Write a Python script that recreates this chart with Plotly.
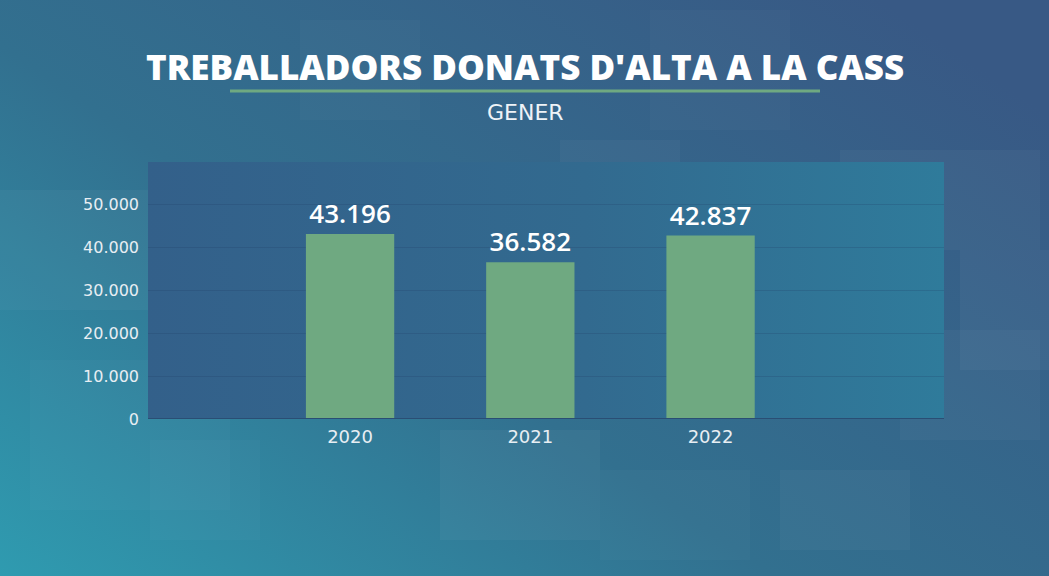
import base64
import plotly.graph_objects as go

years = [2020, 2021, 2022]
workers = [43196, 36582, 42837]
y_ticks = [0, 10000, 20000, 30000, 40000, 50000]

title = "TREBALLADORS DONATS D'ALTA A LA CASS"
subtitle = "GENER"

W, H = 1049, 576
L, R, T, B = 148, 105, 162, 157
PW, PH = W - L - R, H - T - B


def svg_uri(svg):
    return "data:image/svg+xml;base64," + base64.b64encode(svg.encode()).decode()


def px_x(x):
    return (x - L) / PW


def px_y(y):
    return (H - B - y) / PH


# page background: teal on the left, dark blue on the right, faint squares
squares = [
    (0, 190, 150, 120, 0.03), (30, 360, 200, 150, 0.025), (560, 140, 120, 90, 0.03),
    (840, 150, 200, 100, 0.03), (900, 330, 140, 110, 0.03), (440, 430, 160, 110, 0.035),
    (600, 470, 150, 90, 0.025), (300, 20, 120, 100, 0.025), (780, 470, 130, 80, 0.03),
    (150, 440, 110, 100, 0.025), (650, 10, 140, 120, 0.025), (960, 250, 89, 120, 0.035),
]
sq = "".join(
    f'<rect x="{x}" y="{y}" width="{w}" height="{h}" fill="white" fill-opacity="{o}"/>'
    for x, y, w, h, o in squares
)
bg_svg = (
    f'<svg xmlns="http://www.w3.org/2000/svg" width="{W}" height="{H}" preserveAspectRatio="none">'
    '<defs><linearGradient id="g" x1="0" y1="1" x2="1" y2="0.2">'
    '<stop offset="0" stop-color="#2f9bb0"/>'
    '<stop offset="0.45" stop-color="#32708f"/>'
    '<stop offset="1" stop-color="#385985"/>'
    '</linearGradient></defs>'
    f'<rect width="{W}" height="{H}" fill="url(#g)"/>' + sq +
    '</svg>'
)
# plot panel: dark blue on the left, teal on the right
panel_svg = (
    f'<svg xmlns="http://www.w3.org/2000/svg" width="{PW}" height="{PH}" preserveAspectRatio="none">'
    '<defs><linearGradient id="p" x1="0" y1="0" x2="1" y2="0">'
    '<stop offset="0" stop-color="#33608a"/>'
    '<stop offset="0.55" stop-color="#326a8f"/>'
    '<stop offset="1" stop-color="#2f7b9b"/>'
    '</linearGradient></defs>'
    f'<rect width="{PW}" height="{PH}" fill="url(#p)"/>'
    '</svg>'
)

fig = go.Figure(go.Bar(
    x=years, y=workers, width=0.49,
    marker=dict(color="#6fa981", line=dict(width=0)),
    texttemplate="%{y:,}", textposition="outside",
    textfont=dict(family="Open Sans", size=26, color="white", weight=600),
    cliponaxis=False, hoverinfo="skip",
))

fig.update_layout(
    width=W, height=H,
    margin=dict(l=L, r=R, t=T, b=B),
    paper_bgcolor="#32708f",
    plot_bgcolor="rgba(0,0,0,0)",
    separators=",.",
    showlegend=False,
    images=[
        dict(source=svg_uri(bg_svg), xref="paper", yref="paper", x=px_x(0), y=px_y(0),
             sizex=W / PW, sizey=H / PH, sizing="stretch", layer="below",
             xanchor="left", yanchor="top"),
        dict(source=svg_uri(panel_svg), xref="paper", yref="paper", x=0, y=1,
             sizex=1, sizey=1, sizing="stretch", layer="below",
             xanchor="left", yanchor="top"),
    ],
    xaxis=dict(
        range=[2018.879, 2023.295], tickvals=years, ticktext=[str(y) for y in years],
        showgrid=False, zeroline=False, showline=False, ticks="", ticklabelstandoff=5,
        tickfont=dict(family="DejaVu Sans", size=18, color="#e8eef3"),
    ),
    yaxis=dict(
        range=[0, 60000], tickvals=y_ticks, tickformat=",",
        showgrid=True, gridcolor="rgba(30,60,100,0.22)", gridwidth=1,
        zeroline=False, showline=False, ticks="", ticklabelstandoff=8,
        tickfont=dict(family="DejaVu Sans", size=16, color="#e8eef3"),
    ),
    annotations=[
        dict(text=title, x=px_x(525), y=px_y(66), xref="paper", yref="paper", showarrow=False,
             xanchor="center", yanchor="middle",
             font=dict(family="Open Sans", size=35, color="white", weight=800)),
        dict(text=subtitle, x=px_x(525), y=px_y(112), xref="paper", yref="paper", showarrow=False,
             xanchor="center", yanchor="middle",
             font=dict(family="DejaVu Sans", size=22, color="#eef3f7")),
    ],
    shapes=[
        dict(type="line", xref="paper", yref="paper", x0=px_x(230), x1=px_x(820),
             y0=px_y(91), y1=px_y(91), line=dict(color="#6fa981", width=3)),
        dict(type="line", xref="paper", yref="y", x0=0, x1=1, y0=0, y1=0,
             line=dict(color="#2a4e74", width=2)),
    ],
)

fig.write_html("out.html", config={"displayModeBar": False},
               post_script="document.body.style.margin='0';")
